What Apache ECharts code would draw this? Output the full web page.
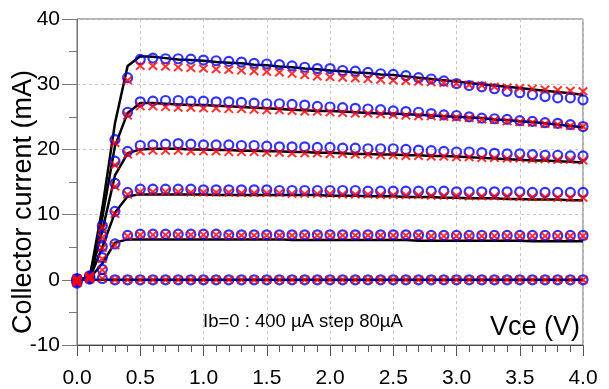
<!DOCTYPE html>
<html><head><meta charset="utf-8">
<script src="https://cdn.jsdelivr.net/npm/echarts@6/dist/echarts.min.js"></script>
<style>html,body{margin:0;padding:0;background:#fff}#c{width:609px;height:389px}</style>
</head><body><div id="c"></div>
<script>
// Vce sweep (V)
const vce = [0.0,0.1,0.2,0.3,0.4,0.5,0.6,0.7,0.8,0.9,1.0,1.1,1.2,1.3,1.4,1.5,1.6,1.7,1.8,1.9,2.0,2.1,2.2,2.3,2.4,2.5,2.6,2.7,2.8,2.9,3.0,3.1,3.2,3.3,3.4,3.5,3.6,3.7,3.8,3.9,4.0];
const xTicks = [0,0.5,1,1.5,2,2.5,3,3.5,4];
const yTicks = [-10,0,10,20,30,40];

// Blue circles (mA), Ib = 0..400 uA
const circ0   = [-0.3,0.1,0.2,0,0,0,0,0,0,0,0,0,0,0,0,0,0,0,0,0,0,0,0,0,0,0,0,0,0,0,0,0,0,0,0,0,0,0,0,0,0];
const circ80  = [0.0,0.3,1.6,5.5,6.8,7.0,7.0,7.0,7.0,7.0,7.0,7.0,6.9,6.9,6.9,6.9,6.9,6.9,6.9,6.9,6.9,6.9,6.9,6.9,6.9,6.9,6.9,6.9,6.8,6.8,6.8,6.8,6.8,6.8,6.8,6.8,6.8,6.8,6.8,6.8,6.8];
const circ160 = [-0.2,0.5,3.4,10.5,13.4,13.9,13.9,13.9,13.9,13.9,13.8,13.8,13.8,13.8,13.8,13.8,13.7,13.7,13.7,13.7,13.7,13.7,13.7,13.6,13.6,13.6,13.6,13.6,13.6,13.6,13.5,13.5,13.5,13.5,13.5,13.5,13.4,13.4,13.4,13.4,13.4];
const circ240 = [0.2,0.2,5.1,14.8,19.7,20.6,20.7,20.8,20.9,20.8,20.7,20.7,20.7,20.6,20.6,20.5,20.4,20.4,20.4,20.3,20.3,20.2,20.2,20.1,20.1,20.1,20.0,19.9,19.8,19.7,19.6,19.6,19.5,19.4,19.3,19.3,19.2,19.1,19.1,19.0,19.0];
const circ320 = [-0.5,0.6,6.7,18.2,25.7,27.3,27.4,27.5,27.5,27.4,27.4,27.3,27.3,27.2,27.1,27.0,27.0,26.9,26.8,26.6,26.5,26.4,26.3,26.2,26.1,25.9,25.8,25.7,25.5,25.3,25.2,25.0,24.8,24.7,24.6,24.4,24.3,24.1,24.0,23.8,23.5];
const circ400 = [0.1,0.4,8.3,21.5,31.0,33.8,34.0,33.9,33.9,33.85,33.7,33.6,33.5,33.4,33.2,33.1,33.0,32.8,32.6,32.4,32.4,32.1,32.0,31.8,31.6,31.5,31.3,31.0,30.8,30.5,30.1,29.8,29.6,29.3,28.9,28.7,28.4,28.1,27.9,27.9,27.6];

// Red crosses (mA)
const cross0   = [-0.3,0.1,0.2,0,0,0,0,0,0,0,0,0,0,0,0,0,0,0,0,0,0,0,0,0,0,0,0,0,0,0,0,0,0,0,0,0,0,0,0,0,0];
const cross80  = [0.0,0.3,1.5,5.3,6.7,6.9,6.9,6.9,6.9,6.9,6.9,6.9,6.8,6.8,6.8,6.8,6.8,6.8,6.8,6.8,6.8,6.8,6.8,6.8,6.8,6.8,6.8,6.8,6.7,6.7,6.7,6.7,6.7,6.7,6.7,6.7,6.7,6.7,6.7,6.7,6.7];
const cross160 = [-0.2,0.5,3.2,10.1,13.1,13.5,13.5,13.5,13.5,13.4,13.4,13.4,13.4,13.3,13.3,13.3,13.3,13.2,13.2,13.2,13.2,13.1,13.1,13.1,13.0,13.0,13.0,13.0,12.9,12.9,12.9,12.8,12.8,12.8,12.8,12.7,12.7,12.7,12.6,12.6,12.6];
const cross240 = [0.2,0.2,4.9,14.3,19.2,19.7,19.8,19.8,19.8,19.7,19.7,19.7,19.6,19.6,19.6,19.5,19.5,19.4,19.4,19.4,19.3,19.3,19.2,19.2,19.1,19.1,19.0,19.0,18.9,18.9,18.8,18.8,18.7,18.7,18.6,18.6,18.5,18.5,18.4,18.4,18.3];
const cross320 = [-0.5,0.6,6.5,17.6,25.2,26.6,26.6,26.5,26.4,26.4,26.3,26.3,26.2,26.2,26.1,26.0,26.0,25.9,25.8,25.8,25.7,25.6,25.5,25.5,25.4,25.3,25.2,25.1,25.1,25.0,24.9,24.8,24.6,24.5,24.3,24.2,24.1,23.9,23.8,23.6,23.5];
const cross400 = [0.1,0.4,8.0,21.0,30.6,32.8,32.8,32.7,32.6,32.5,32.4,32.3,32.2,32.1,32.0,31.9,31.8,31.6,31.4,31.2,31.1,31.0,30.9,30.8,30.7,30.6,30.5,30.4,30.3,30.2,30.1,29.9,29.8,29.6,29.5,29.4,29.3,29.2,29.1,29.0,28.9];

// Black model curves (mA)
const line0   = [0,0,0,0,0,0,0,0,0,0,0,0,0,0,0,0,0,0,0,0,0,0,0,0,0,0,0,0,0,0,0,0,0,0,0,0,0,0,0,0,0];
const line80  = [0,0.2,2.5,5.7,6.2,6.2,6.2,6.2,6.2,6.2,6.2,6.2,6.2,6.2,6.2,6.2,6.2,6.1,6.1,6.1,6.1,6.1,6.1,6.1,6.1,6.1,6.1,6.0,6.0,6.0,6.0,6.0,6.0,6.0,6.0,6.0,5.9,5.9,5.9,5.9,5.9];
const line160 = [0,0.2,5.0,10.3,12.8,13.1,13.1,13.1,13.1,13.1,13.1,13.0,13.0,13.0,13.0,13.0,13.0,13.0,13.0,13.0,12.9,12.9,12.9,12.8,12.8,12.8,12.7,12.7,12.7,12.6,12.6,12.5,12.5,12.5,12.4,12.4,12.3,12.3,12.3,12.2,12.2];
const line240 = [0,0.2,7.5,16.0,19.4,20.0,20.1,20.1,20.1,20.0,20.0,19.9,19.9,19.8,19.8,19.7,19.7,19.6,19.6,19.5,19.5,19.4,19.3,19.3,19.2,19.2,19.1,19.1,19.0,19.0,18.9,18.8,18.7,18.6,18.5,18.4,18.3,18.3,18.2,18.1,18.0];
const line320 = [0,0.3,9.5,20.5,25.6,27.1,27.1,27.0,26.9,26.8,26.8,26.7,26.6,26.5,26.4,26.3,26.2,26.1,26.0,25.9,25.9,25.8,25.7,25.6,25.5,25.5,25.4,25.3,25.2,25.1,25.0,24.9,24.8,24.6,24.5,24.3,24.2,24.0,23.8,23.6,23.4];
const line400 = [0,0.3,11.0,24.0,32.8,34.3,34.2,34.0,33.8,33.7,33.6,33.4,33.3,33.2,33.0,32.9,32.7,32.6,32.4,32.3,32.1,32.0,31.8,31.7,31.5,31.4,31.2,31.0,30.8,30.6,30.4,30.2,30.0,29.8,29.6,29.4,29.2,29.0,28.8,28.6,28.4];

const yTitle = 'Collector current (mA)';
const xTitle = 'Vce (V)';
const note = 'Ib=0 : 400 \u00B5A step 80\u00B5A';

const lines = [line0,line80,line160,line240,line320,line400];
const circles = [circ0,circ80,circ160,circ240,circ320,circ400];
const crosses = [cross0,cross80,cross160,cross240,cross320,cross400];
const pairs = arr => vce.map((x,i)=>[x, arr[i]]);
const crossPath = 'path://M0,1.5L1.5,0L5,3.5L8.5,0L10,1.5L6.5,5L10,8.5L8.5,10L5,6.5L1.5,10L0,8.5L3.5,5Z';

const series = [];
lines.forEach(d => series.push({type:'line', data:pairs(d), symbol:'none', showSymbol:false, lineStyle:{color:'#000', width:2.5}, z:2, silent:true}));
circles.forEach(d => series.push({type:'scatter', data:pairs(d), symbol:'circle', symbolSize:9, itemStyle:{color:'rgba(0,0,0,0)', borderColor:'#0000ff', borderWidth:2.2}, z:3, silent:true}));
crosses.forEach(d => series.push({type:'scatter', data:pairs(d), symbol:crossPath, symbolSize:[10,9], itemStyle:{color:'#ff0000'}, z:4, silent:true}));

const NARROW = '"Liberation Sans Narrow", "Liberation Sans", Arial, sans-serif';
const chart = echarts.init(document.getElementById('c'), null, {renderer:'canvas'});
chart.setOption({
  animation:false,
  backgroundColor:'#fff',
  grid:{left:77, right:26, top:19, bottom:43, show:true, borderColor:'#666', borderWidth:1, backgroundColor:'transparent'},
  xAxis:{type:'value', min:xTicks[0], max:xTicks[xTicks.length-1], interval:0.5,
    axisLine:{show:true, onZero:false, lineStyle:{color:'#444', width:1}},
    axisTick:{show:true, length:11, lineStyle:{color:'#555'}},
    minorTick:{show:true, splitNumber:5, length:7, lineStyle:{color:'#555'}},
    axisLabel:{formatter:v=>v.toFixed(1), fontFamily:NARROW, fontSize:21, color:'#000', margin:23, showMinLabel:true, showMaxLabel:true},
    splitLine:{show:true, lineStyle:{color:'#c8c8c8', type:[3,3]}}},
  yAxis:{type:'value', min:yTicks[0], max:yTicks[yTicks.length-1], interval:10,
    axisLine:{show:true, onZero:false, lineStyle:{color:'#777', width:1}},
    axisTick:{show:true, length:15, lineStyle:{color:'#777'}},
    minorTick:{show:true, splitNumber:2, length:8, lineStyle:{color:'#777'}},
    axisLabel:{fontFamily:NARROW, fontSize:21, color:'#000', margin:17, showMinLabel:true, showMaxLabel:true},
    splitLine:{show:true, lineStyle:{color:'#c8c8c8', type:[3,3]}}},
  graphic:[
    {type:'text', x:24, y:202, rotation:Math.PI/2, style:{text:yTitle, fontFamily:'"Liberation Sans", Arial, sans-serif', fontSize:27, fill:'#000', align:'center', verticalAlign:'middle'}},
    {type:'text', x:580, y:328, style:{text:xTitle, fontFamily:NARROW, fontSize:27, fill:'#000', align:'right', verticalAlign:'middle'}},
    {type:'text', x:203, y:322, style:{text:note, fontFamily:NARROW, fontSize:18.5, fill:'#000', align:'left', verticalAlign:'middle'}}
  ],
  series:series
});
</script></body></html>
